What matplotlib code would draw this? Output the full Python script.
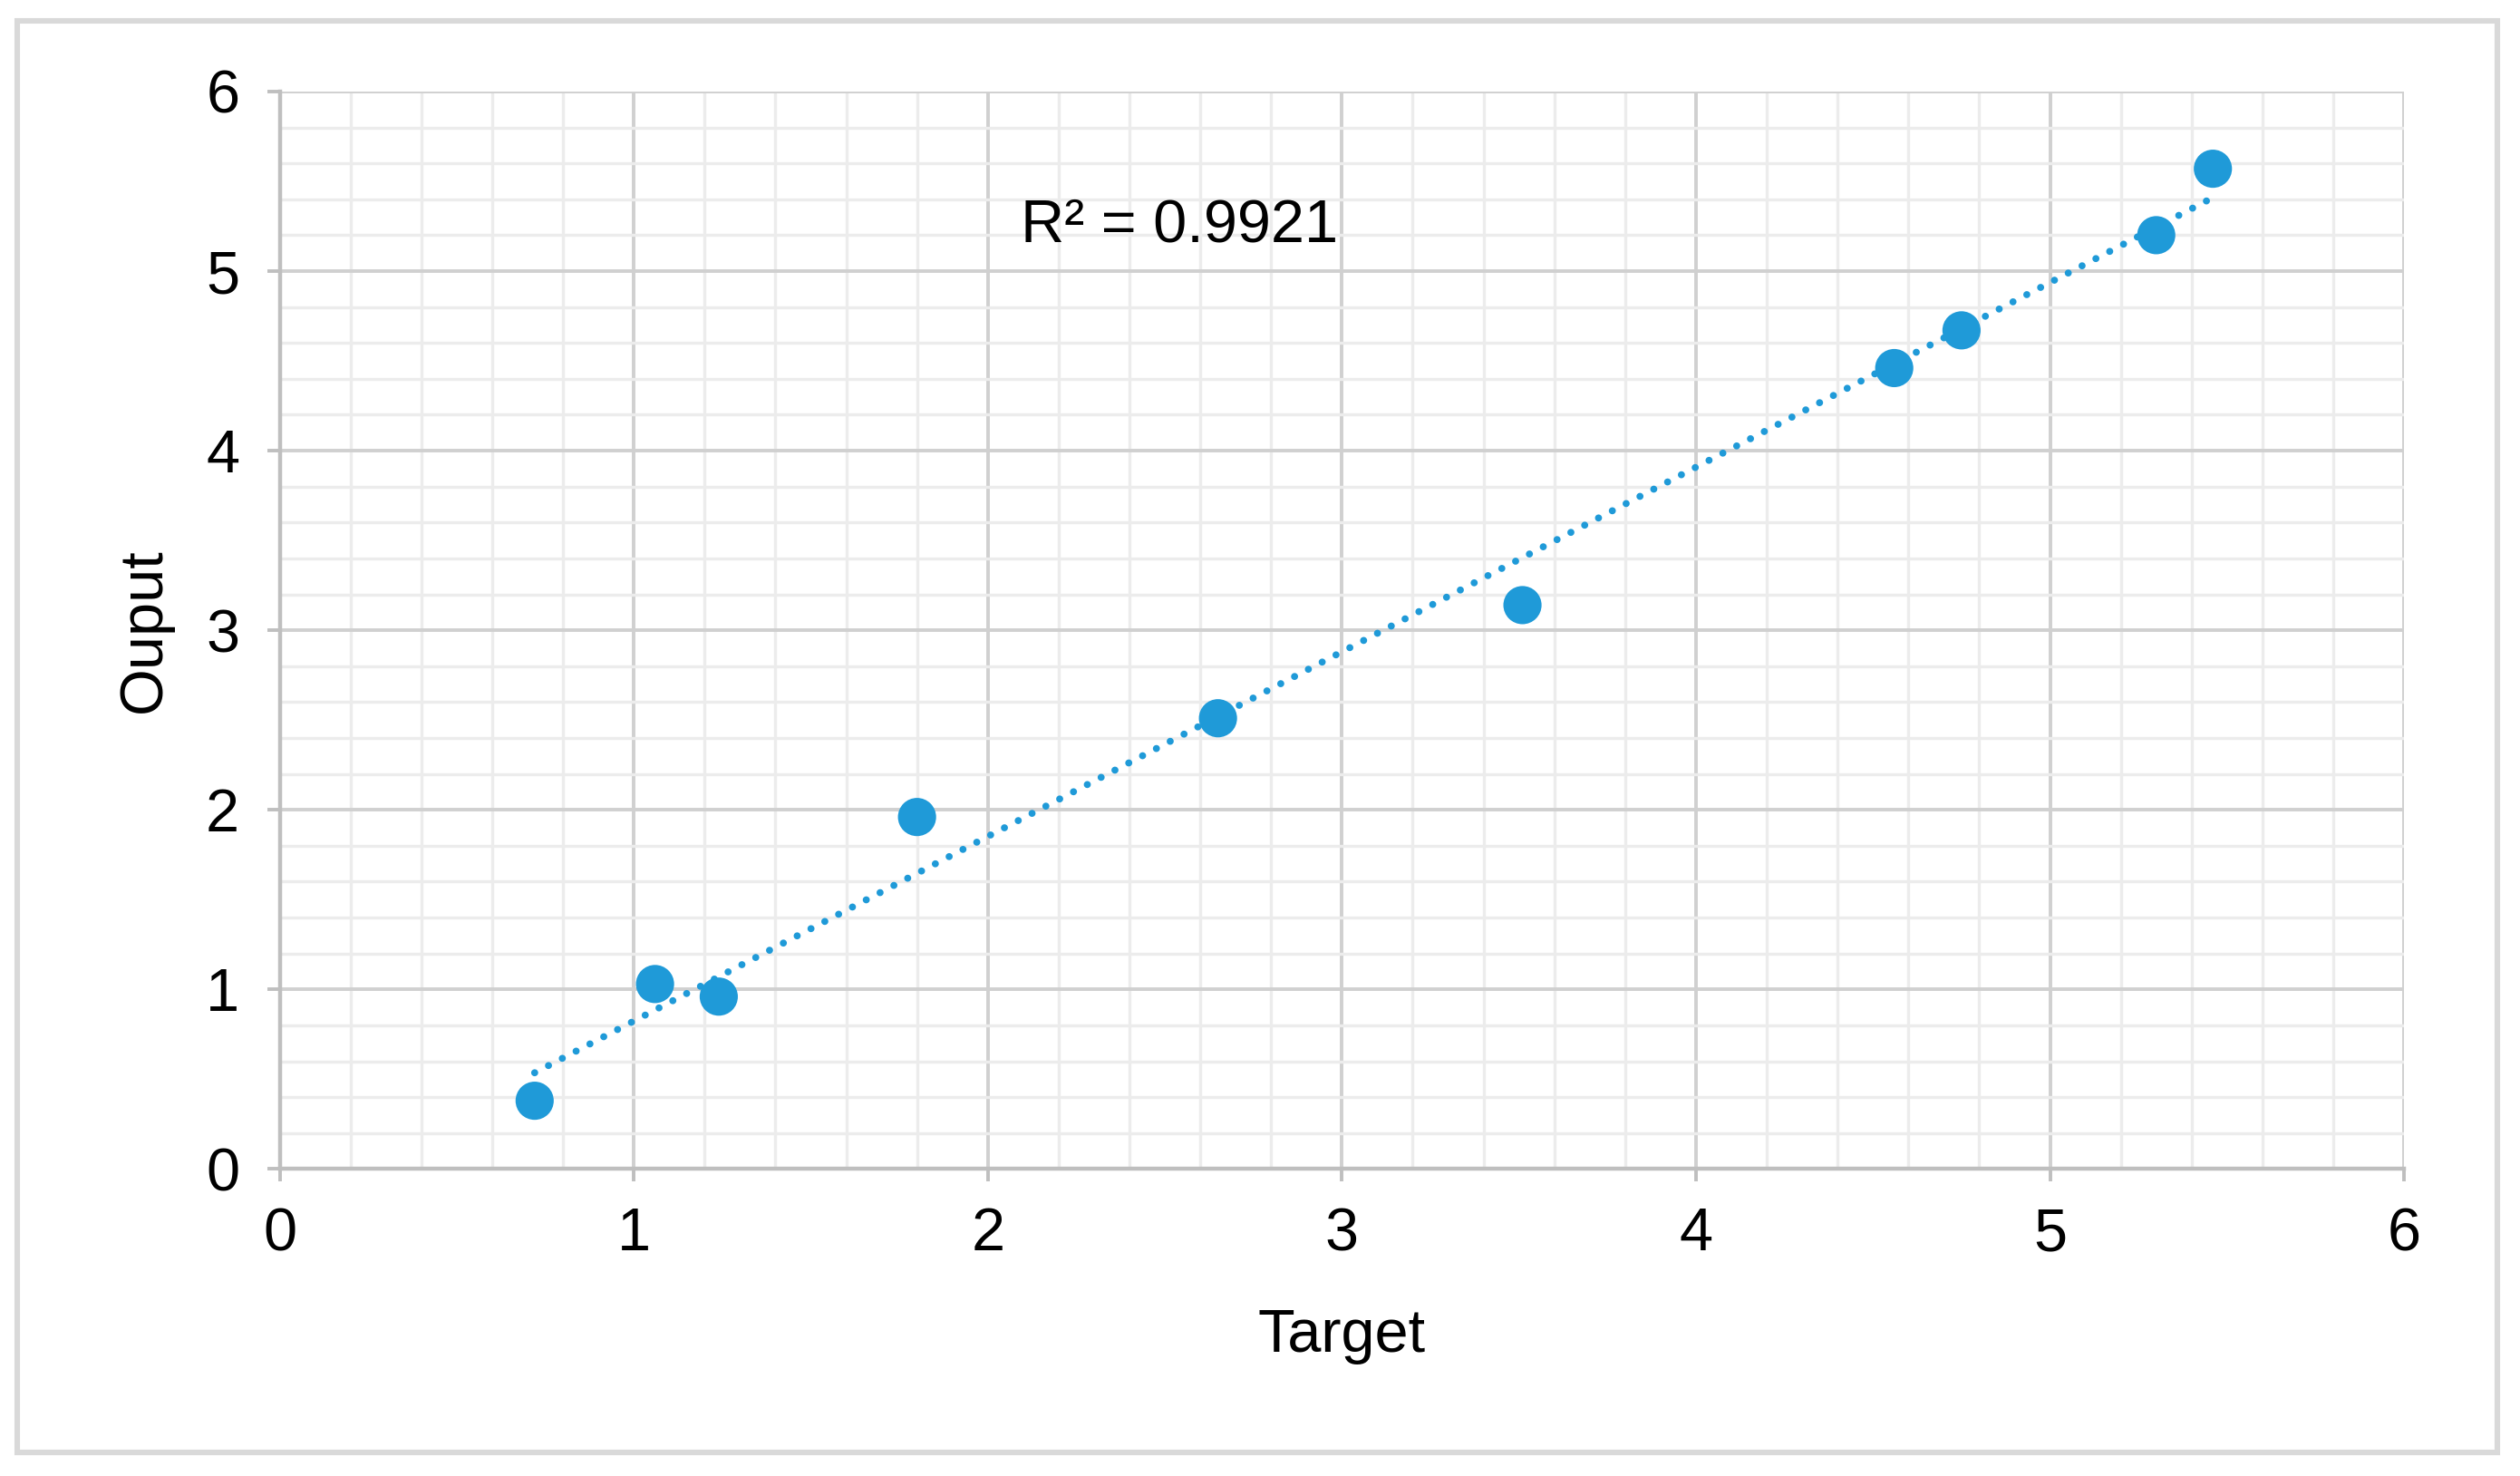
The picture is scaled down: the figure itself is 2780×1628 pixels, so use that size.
import numpy as np
import matplotlib
matplotlib.use("Agg")
import matplotlib.pyplot as plt
from matplotlib.ticker import MultipleLocator
from matplotlib.patches import Rectangle

plt.rcParams['font.family'] = ['Liberation Sans', 'DejaVu Sans']

target = [0.72, 1.06, 1.24, 1.80, 2.65, 3.51, 4.56, 4.75, 5.30, 5.46]
output = [0.38, 1.03, 0.96, 1.96, 2.51, 3.14, 4.46, 4.67, 5.20, 5.57]
r2_label = "R² = 0.9921"
x_label = "Target"
y_label = "Ouput"

blue = "#1f9ad8"

fig = plt.figure(figsize=(13.9, 8.14), dpi=200)
fig.patches.append(Rectangle((0.007, 0.016), 0.984, 0.97, transform=fig.transFigure,
                             fill=False, edgecolor="#d9d9d9", linewidth=2.2, zorder=0))
ax = fig.add_axes([0.111, 0.208, 0.843, 0.730])

ax.set_xlim(0, 6)
ax.set_ylim(0, 6)
ax.xaxis.set_major_locator(MultipleLocator(1))
ax.yaxis.set_major_locator(MultipleLocator(1))
ax.xaxis.set_minor_locator(MultipleLocator(0.2))
ax.yaxis.set_minor_locator(MultipleLocator(0.2))

ax.grid(which='major', color="#d0d0d0", linewidth=1.4, zorder=1)
ax.grid(which='minor', color="#ececec", linewidth=1.2, zorder=0.5)
ax.set_axisbelow(True)

for s in ['top', 'right']:
    ax.spines[s].set_visible(False)
for s in ['left', 'bottom']:
    ax.spines[s].set_color("#bfbfbf")
    ax.spines[s].set_linewidth(1.6)

ax.tick_params(which='major', direction='out', length=5, width=1.4, color="#bfbfbf",
               labelsize=24, labelcolor="black")
ax.tick_params(axis='x', which='major', pad=10)
ax.tick_params(axis='y', which='major', pad=11)
ax.tick_params(which='minor', length=0)

# trendline
x = np.array(target)
y = np.array(output)
m, b = np.polyfit(x, y, 1)
xl = np.array([x.min(), x.max()])
ax.plot(xl, m * xl + b, color=blue, linewidth=2.8, linestyle=(0, (0.01, 2.2)),
        dash_capstyle='round', zorder=3)

ax.scatter(target, output, s=230, color=blue, edgecolors='none', zorder=4)

ax.text(2.54, 5.25, r2_label, fontsize=24, ha='center', va='center', zorder=5)

ax.set_xlabel(x_label, fontsize=24, labelpad=18)
ax.set_ylabel(y_label, fontsize=24, labelpad=13)

fig.savefig("out.png", dpi=200, facecolor="white")
